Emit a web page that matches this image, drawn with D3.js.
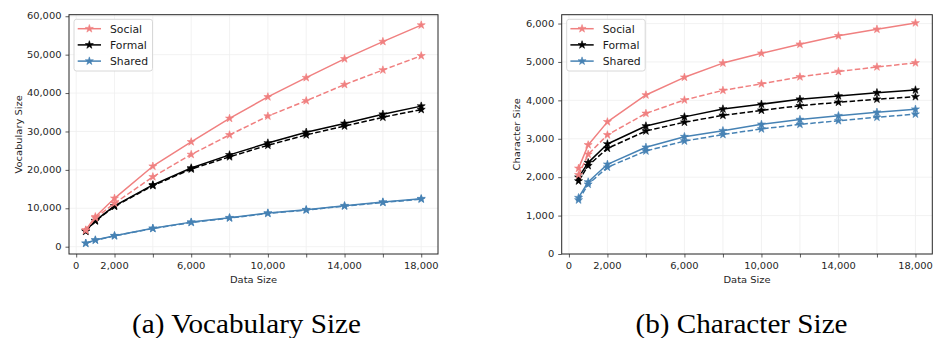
<!DOCTYPE html>
<html>
<head>
<meta charset="utf-8">
<script src="https://cdn.jsdelivr.net/npm/d3@7"></script>
<style>
  html, body { margin: 0; padding: 0; background: #fff; }
  svg { display: block; }
</style>
</head>
<body>
<svg id="chart" width="933" height="338"></svg>
<script>
// ---------------- data ----------------
const dataSizes = [500, 1000, 2000, 4000, 6000, 8000, 10000, 12000, 14000, 16000, 18000];
const seriesNames = ["Social", "Formal", "Shared"];
const xTickValues = [0, 2000, 4000, 6000, 8000, 10000, 12000, 14000, 16000, 18000];
const xTickLabelled = [0, 2000, 6000, 10000, 14000, 18000];
const vocabTicks = [0, 10000, 20000, 30000, 40000, 50000, 60000];
const charTicks = [0, 1000, 2000, 3000, 4000, 5000, 6000];

// (a) Vocabulary Size
const vocabSocialSolid  = [4350, 7800, 12600, 20950, 27300, 33400, 39000, 44000, 48900, 53400, 57700];
const vocabSocialDashed = [4250, 7500, 11300, 18200, 24000, 29100, 34000, 38000, 42200, 46000, 49700];
const vocabFormalSolid  = [4100, 6800, 10650, 16100, 20500, 23900, 27000, 29800, 32100, 34500, 36600];
const vocabFormalDashed = [4000, 6700, 10500, 15900, 20200, 23400, 26400, 29100, 31400, 33700, 35700];
const vocabSharedSolid  = [900, 1750, 2870, 4800, 6400, 7550, 8780, 9640, 10680, 11640, 12500];
const vocabSharedDashed = [880, 1700, 2800, 4720, 6300, 7450, 8650, 9550, 10550, 11500, 12380];

// (b) Character Size
const charSocialSolid  = [2230, 2840, 3440, 4140, 4600, 4970, 5225, 5460, 5680, 5850, 6015];
const charSocialDashed = [2060, 2595, 3100, 3660, 4010, 4260, 4430, 4610, 4750, 4870, 4975];
const charFormalSolid  = [1997, 2378, 2865, 3333, 3570, 3775, 3900, 4030, 4115, 4200, 4270];
const charFormalDashed = [1900, 2300, 2750, 3203, 3430, 3610, 3740, 3860, 3950, 4030, 4095];
const charSharedSolid  = [1466, 1875, 2335, 2778, 3055, 3210, 3375, 3500, 3600, 3690, 3770];
const charSharedDashed = [1406, 1815, 2258, 2682, 2940, 3110, 3255, 3375, 3470, 3560, 3640];

const captions = ["(a) Vocabulary Size", "(b) Character Size"];
const yLabels = ["Vocabulary Size", "Character Size"];
const xLabel = "Data Size";

// ---------------- style ----------------
const colors = { Social: "#F08080", Formal: "#000000", Shared: "#4682B4" };
const SANS = "DejaVu Sans, sans-serif";
const SERIF = "Liberation Serif, Times New Roman, serif";
const STRETCH = 1.1;

const svg = d3.select("#chart");

function stretchedText(g, x, y, str, opts) {
  const t = g.append("g").attr("transform", `translate(${x},${y})${opts.rotate ? " rotate(" + opts.rotate + ")" : ""} scale(${opts.sx || 1},1)`)
    .append("text")
    .attr("x", 0).attr("y", 0)
    .attr("font-family", opts.family || SANS)
    .attr("font-size", opts.size)
    .attr("fill", opts.fill || "#262626")
    .attr("text-anchor", opts.anchor || "middle")
    .text(str);
  if (opts.dy) t.attr("dy", opts.dy);
  return t;
}

function drawPanel(cfg) {
  const x = d3.scaleLinear().domain([-375, 18875]).range([cfg.left, cfg.right]);
  const y = d3.scaleLinear().domain(cfg.yDomain).range([cfg.bottom, cfg.top]);
  const g = svg.append("g");

  // grid
  g.append("g").selectAll("line.gx").data(xTickValues).join("line")
    .attr("x1", d => x(d)).attr("x2", d => x(d))
    .attr("y1", cfg.top).attr("y2", cfg.bottom)
    .attr("stroke", "#efefef").attr("stroke-width", 0.8);
  g.append("g").selectAll("line.gy").data(cfg.yTicks).join("line")
    .attr("x1", cfg.left).attr("x2", cfg.right)
    .attr("y1", d => y(d)).attr("y2", d => y(d))
    .attr("stroke", "#efefef").attr("stroke-width", 0.8);

  // x axis ticks
  const xAxis = d3.axisBottom(x).tickValues(xTickValues).tickSize(3.5)
    .tickFormat(d => xTickLabelled.includes(d) ? d3.format(",")(d) : "");
  const xg = g.append("g").attr("transform", `translate(0,${cfg.bottom})`).call(xAxis);
  xg.select(".domain").remove();
  xg.selectAll(".tick line").attr("stroke", "#333").attr("stroke-width", 0.8);
  xg.selectAll(".tick text").remove();
  xTickLabelled.forEach(v => {
    stretchedText(g, x(v), cfg.bottom + 14.5, d3.format(",")(v), { size: 9, sx: STRETCH });
  });

  // y axis ticks
  const yAxis = d3.axisLeft(y).tickValues(cfg.yTicks).tickSize(3.5);
  const yg = g.append("g").attr("transform", `translate(${cfg.left},0)`).call(yAxis);
  yg.select(".domain").remove();
  yg.selectAll(".tick line").attr("stroke", "#333").attr("stroke-width", 0.8);
  yg.selectAll(".tick text").remove();
  cfg.yTicks.forEach(v => {
    stretchedText(g, cfg.left - 7.5, y(v), d3.format(",")(v), { size: 9, sx: STRETCH, anchor: "end", dy: "0.35em" });
  });

  // frame
  g.append("rect").attr("x", cfg.left).attr("y", cfg.top)
    .attr("width", cfg.right - cfg.left).attr("height", cfg.bottom - cfg.top)
    .attr("fill", "none").attr("stroke", "#262626").attr("stroke-width", 1);

  // axis labels
  stretchedText(g, (cfg.left + cfg.right) / 2, cfg.bottom + 29, xLabel, { size: 9, sx: STRETCH });
  stretchedText(g, cfg.yLabelX, (cfg.top + cfg.bottom) / 2, cfg.yLabel, { size: 9, sx: STRETCH, rotate: -90 });

  // series
  const line = d3.line().x((d, i) => x(dataSizes[i])).y(d => y(d));
  const star = d3.symbol().type(d3.symbolStar).size(20);
  const order = [
    ["Shared", cfg.series.Shared[1], true], ["Shared", cfg.series.Shared[0], false],
    ["Formal", cfg.series.Formal[1], true], ["Formal", cfg.series.Formal[0], false],
    ["Social", cfg.series.Social[1], true], ["Social", cfg.series.Social[0], false]
  ];
  order.forEach(([name, vals, dashed]) => {
    const sg = g.append("g");
    sg.append("path").attr("d", line(vals))
      .attr("fill", "none").attr("stroke", colors[name]).attr("stroke-width", 1.5)
      .attr("stroke-dasharray", dashed ? "5.5,2.4" : null)
      .attr("stroke-linejoin", "round");
    sg.selectAll("path.m").data(vals).join("path")
      .attr("transform", (d, i) => `translate(${x(dataSizes[i])},${y(d)})`)
      .attr("d", star).attr("fill", colors[name]).attr("stroke", colors[name]).attr("stroke-width", 0.6);
  });

  // legend
  const lg = g.append("g");
  lg.append("rect").attr("x", cfg.left + 5).attr("y", cfg.top + 4.6)
    .attr("width", 78.5).attr("height", 51.7).attr("rx", 2.5)
    .attr("fill", "#fff").attr("fill-opacity", 0.85)
    .attr("stroke", "#d4d4d4").attr("stroke-width", 0.9);
  seriesNames.forEach((name, i) => {
    const cy = cfg.top + 14 + i * 16.2;
    const lx0 = cfg.left + 8.7, lx1 = cfg.left + 32;
    lg.append("line").attr("x1", lx0).attr("x2", lx1).attr("y1", cy).attr("y2", cy)
      .attr("stroke", colors[name]).attr("stroke-width", 1.5);
    lg.append("path").attr("transform", `translate(${(lx0 + lx1) / 2},${cy})`)
      .attr("d", star).attr("fill", colors[name]).attr("stroke", colors[name]).attr("stroke-width", 0.6);
    lg.append("text").attr("x", cfg.left + 41).attr("y", cy).attr("dy", "0.36em")
      .attr("font-family", SANS).attr("font-size", 10.8).attr("fill", "#1a1a1a")
      .text(name);
  });

  // caption
  stretchedText(svg, cfg.captionX, 332.5, cfg.caption, { size: 27, sx: 1.08, family: SERIF, fill: "#000" });
}

drawPanel({
  left: 69, right: 438, top: 14.7, bottom: 254,
  yDomain: [-1900, 60400], yTicks: vocabTicks,
  yLabel: yLabels[0], yLabelX: 21.5,
  caption: captions[0], captionX: 246.5,
  series: {
    Social: [vocabSocialSolid, vocabSocialDashed],
    Formal: [vocabFormalSolid, vocabFormalDashed],
    Shared: [vocabSharedSolid, vocabSharedDashed]
  }
});

drawPanel({
  left: 561.7, right: 932.3, top: 14.7, bottom: 254,
  yDomain: [0, 6230], yTicks: charTicks,
  yLabel: yLabels[1], yLabelX: 520,
  caption: captions[1], captionX: 741.5,
  series: {
    Social: [charSocialSolid, charSocialDashed],
    Formal: [charFormalSolid, charFormalDashed],
    Shared: [charSharedSolid, charSharedDashed]
  }
});
</script>
</body>
</html>
